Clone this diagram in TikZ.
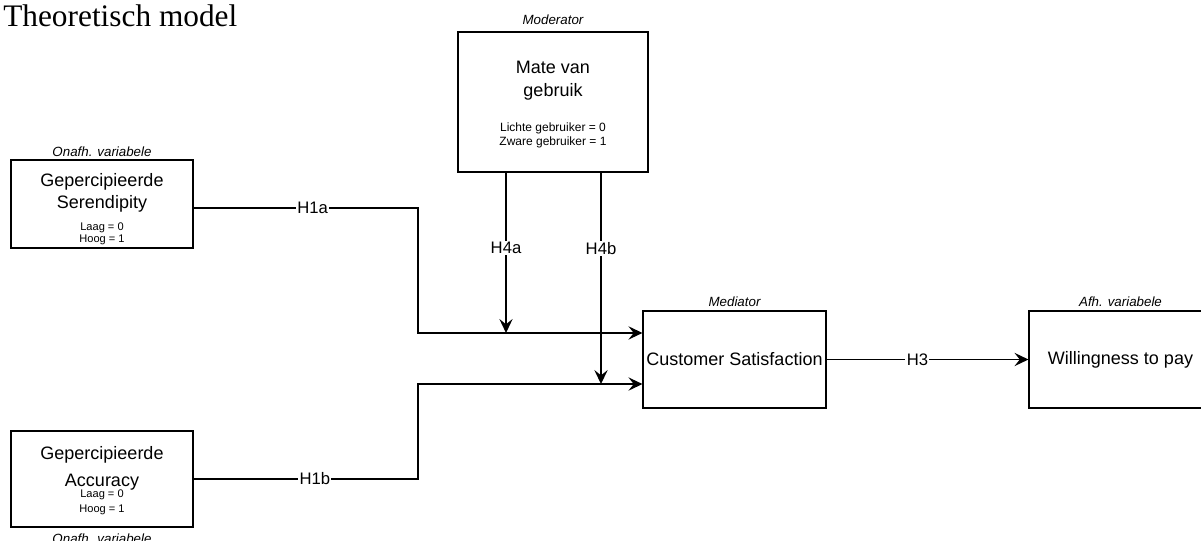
\documentclass[tikz,border=0pt]{standalone}
\usepackage{fontspec}
\setmainfont{Liberation Serif}
\setsansfont{Liberation Sans}
\usetikzlibrary{arrows.meta, positioning}

\begin{document}
\begin{tikzpicture}[x=0.75pt, y=-0.75pt,
                    every node/.style={font=\sffamily},
                    varbox/.style={rectangle, draw, line width=1.1pt, inner sep=0pt,
                                   align=center, font=\sffamily\fontsize{13.5}{16.5}\selectfont},
                    vartitle/.style={align=center, inner sep=0pt,
                                     font=\sffamily\fontsize{13.5}{16.5}\selectfont},
                    varval/.style={align=center, inner sep=0pt,
                                   font=\sffamily\fontsize{8.3}{9}\selectfont},
                    vartag/.style={inner sep=0pt, font=\sffamily\itshape\fontsize{10}{12}\selectfont},
                    conn/.style={draw, line width=1pt,
                                 -{Stealth[length=10.5pt, width=10pt, inset=4pt]}},
                    hyp/.style={fill=white, inner sep=1pt,
                                font=\sffamily\fontsize{12.5}{14}\selectfont}]
  \useasboundingbox (0,0) rectangle (1201,541);
  \clip (0,0) rectangle (1201,541);

  \node[anchor=base west, inner sep=0pt, font=\rmfamily\fontsize{23.5}{28}\selectfont]
    (title) at (3,27) {Theoretisch model};

  \node[varbox, minimum width=136.5pt, minimum height=66pt] (ser) at (102,204) {};
  \node[vartitle] (sertxt) at (102,193) {Gepercipieerde\\Serendipity};
  \node[varval] (serval) at (102,233.5) {Laag = 0\\Hoog = 1};
  \node[vartag, above=1.5pt of ser] (sertag) {Onafh. variabele};

  \node[varbox, minimum width=136.5pt, minimum height=72pt] (acc) at (102,479) {};
  \node[vartitle] (acctxt) at (102,468.5) {Gepercipieerde\\[4pt]Accuracy};
  \node[varval] (accval) at (102,502) {Laag = 0\\[2pt]Hoog = 1};
  \node[vartag, below=4.5pt of acc] (acctag) {Onafh. variabele};

  \node[varbox, minimum width=142.5pt, minimum height=105pt] (mod) at (553,102) {};
  \node[vartitle] (modtxt) at (553,81) {Mate van\\[0.5pt]gebruik};
  \node[varval, font=\sffamily\fontsize{9}{10.5}\selectfont] (modval) at (553,135) {Lichte gebruiker = 0\\Zware gebruiker = 1};
  \node[vartag, above=4.5pt of mod] (modtag) {Moderator};

  \node[varbox, minimum width=137pt, minimum height=73pt] (med) at (734.5,359.5) {Customer Satisfaction};
  \node[vartag, above=2.5pt of med] (medtag) {Mediator};

  \node[varbox, minimum width=137pt, minimum height=73pt] (wtp) at (1120.5,359.5) {Willingness to pay};
  \node[vartag, above=2.5pt of wtp] (wtptag) {Afh. variabele};

  \coordinate (kink) at (418,0);
  \coordinate (inA) at ([yshift=19.9pt]med.west);
  \coordinate (inB) at ([yshift=-18.4pt]med.west);
  \coordinate (modA) at ([xshift=-35.25pt]mod.south);
  \coordinate (modB) at ([xshift=36pt]mod.south);

  \draw[conn] ([yshift=-3pt]ser.east) -- node[hyp, pos=0.53] {H1a}
    ([yshift=-3pt]ser.east -| kink) |- (inA);
  \draw[conn] (acc.east) -- node[hyp, pos=0.54] {H1b} (acc.east -| kink) |- (inB);
  \draw[conn] (modA) -- node[hyp, pos=0.47] {H4a} (modA |- inA);
  \draw[conn] (modB) -- node[hyp, pos=0.36] {H4b} (modB |- inB);
  \draw[conn] (med.east) -- node[hyp, pos=0.45] {H3} (wtp.west);
\end{tikzpicture}
\end{document}
